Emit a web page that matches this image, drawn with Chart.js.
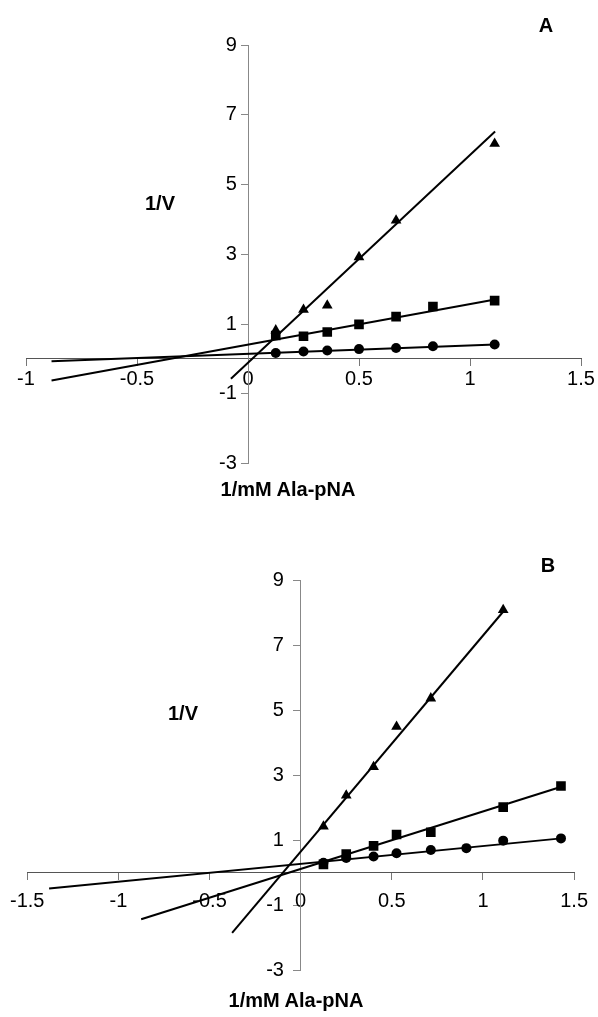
<!DOCTYPE html>
<html>
<head>
<meta charset="utf-8">
<script src="https://cdn.jsdelivr.net/npm/chart.js@4.4.0/dist/chart.umd.min.js"></script>
<style>
body { margin: 0; background: #fff; }
.panel { position: absolute; left: 0; width: 598px; }
.lbl {
    position: absolute;
    font-family: "Liberation Sans", Arial, sans-serif;
    font-weight: bold;
    font-size: 20px;
    color: #000;
    transform: translate(-50%, -50%);
    white-space: nowrap;
}
</style>
</head>
<body>
<div class="panel" style="top:0;height:510px"><canvas id="chartA"></canvas></div>
<div class="panel" style="top:510px;height:507px"><canvas id="chartB"></canvas></div>

<div class="lbl" style="left:546px;top:25px">A</div>
<div class="lbl" style="left:160px;top:203px">1/V</div>
<div class="lbl" style="left:288px;top:489px">1/mM Ala-pNA</div>

<div class="lbl" style="left:548px;top:565px">B</div>
<div class="lbl" style="left:183px;top:713px">1/V</div>
<div class="lbl" style="left:296px;top:1000px">1/mM Ala-pNA</div>

<script>
// Panel A data
const xTicksA = [-1, -0.5, 0, 0.5, 1, 1.5];
const yTicks = [-3, -1, 1, 3, 5, 7, 9];
const circleXA = [0.125, 0.25, 0.357, 0.5, 0.667, 0.833, 1.111];
const circleYA = [0.17, 0.21, 0.24, 0.28, 0.31, 0.36, 0.41];
const squareXA = [0.125, 0.25, 0.357, 0.5, 0.667, 0.833, 1.111];
const squareYA = [0.67, 0.65, 0.77, 0.99, 1.21, 1.50, 1.67];
const triXA = [0.125, 0.25, 0.357, 0.5, 0.667, 1.111];
const triYA = [0.82, 1.41, 1.53, 2.92, 3.97, 6.17];
// fitted lines: start and end points
const fitCircleA = [[-0.885, -0.07], [1.113, 0.415]];
const fitSquareA = [[-0.885, -0.62], [1.113, 1.70]];
const fitTriA = [[-0.077, -0.57], [1.113, 6.52]];

// Panel B data
const xTicksB = [-1.5, -1, -0.5, 0, 0.5, 1, 1.5];
const circleXB = [0.125, 0.25, 0.4, 0.526, 0.714, 0.909, 1.111, 1.428];
const circleYB = [0.30, 0.45, 0.49, 0.59, 0.69, 0.75, 0.98, 1.05];
const squareXB = [0.125, 0.25, 0.4, 0.526, 0.714, 1.111, 1.428];
const squareYB = [0.25, 0.57, 0.82, 1.17, 1.24, 2.01, 2.66];
const triXB = [0.125, 0.25, 0.4, 0.526, 0.714, 1.111];
const triYB = [1.42, 2.37, 3.25, 4.49, 5.36, 8.08];
const fitCircleB = [[-1.38, -0.49], [1.43, 1.05]];
const fitSquareB = [[-0.875, -1.44], [1.43, 2.64]];
const fitTriB = [[-0.376, -1.86], [1.122, 8.10]];

const pts = (xs, ys) => xs.map((x, i) => ({ x: x, y: ys[i] }));
const seg = (p) => p.map(([x, y]) => ({ x: x, y: y }));

const tickFont = { family: 'Liberation Sans, Arial, sans-serif', size: 20 };

function markers(data, style, radius) {
    return {
        data: data,
        showLine: false,
        pointStyle: style,
        pointRadius: radius,
        pointBackgroundColor: '#000',
        pointBorderColor: '#000',
        pointBorderWidth: 0
    };
}

function fitLine(data) {
    return {
        data: data,
        showLine: true,
        borderColor: '#000',
        borderWidth: 2,
        pointRadius: 0
    };
}

function makeChart(id, cfg) {
    return new Chart(document.getElementById(id), {
        type: 'scatter',
        data: {
            datasets: [
                fitLine(seg(cfg.fits[0])),
                fitLine(seg(cfg.fits[1])),
                fitLine(seg(cfg.fits[2])),
                markers(cfg.circles, 'circle', 5),
                markers(cfg.squares, 'rect', 6.8),
                markers(cfg.triangles, 'triangle', 6.2)
            ]
        },
        options: {
            responsive: true,
            maintainAspectRatio: false,
            animation: false,
            devicePixelRatio: 1,
            layout: { padding: cfg.padding },
            plugins: { legend: { display: false }, tooltip: { enabled: false } },
            scales: {
                x: {
                    type: 'linear',
                    position: { y: 0 },
                    min: cfg.xTicks[0],
                    max: cfg.xTicks[cfg.xTicks.length - 1],
                    afterBuildTicks: s => { s.ticks = cfg.xTicks.map(v => ({ value: v })); },
                    afterFit: s => { s.height = 0; },
                    grid: { drawOnChartArea: false, drawTicks: true, tickLength: 7, color: '#777' },
                    border: { display: true, color: '#555', width: 1 },
                    ticks: { color: '#000', font: tickFont, padding: cfg.xPad, maxRotation: 0,
                             callback: v => String(v) }
                },
                y: {
                    type: 'linear',
                    position: { x: 0 },
                    min: -3,
                    max: 9,
                    afterBuildTicks: s => { s.ticks = yTicks.map(v => ({ value: v })); },
                    afterFit: s => { s.width = 0; },
                    grid: { drawOnChartArea: false, drawTicks: true, tickLength: 7, color: '#888' },
                    border: { display: true, color: '#888', width: 1 },
                    // labels sit right-aligned on the axis line, so pad them with spaces
                    ticks: { color: '#000', font: tickFont, callback: v => String(v) + cfg.yGap }
                }
            }
        }
    });
}

makeChart('chartA', {
    xTicks: xTicksA,
    circles: pts(circleXA, circleYA),
    squares: pts(squareXA, squareYA),
    triangles: pts(triXA, triYA),
    fits: [fitCircleA, fitSquareA, fitTriA],
    padding: { left: 26, right: 17, top: 45, bottom: 46.5 },
    xPad: 2,
    yGap: '  '
});

makeChart('chartB', {
    xTicks: xTicksB,
    circles: pts(circleXB, circleYB),
    squares: pts(squareXB, squareYB),
    triangles: pts(triXB, triYB),
    fits: [fitCircleB, fitSquareB, fitTriB],
    padding: { left: 23.7, right: 16.3, top: 70, bottom: 47 },
    xPad: 10,
    yGap: '   '
});
</script>
</body>
</html>
